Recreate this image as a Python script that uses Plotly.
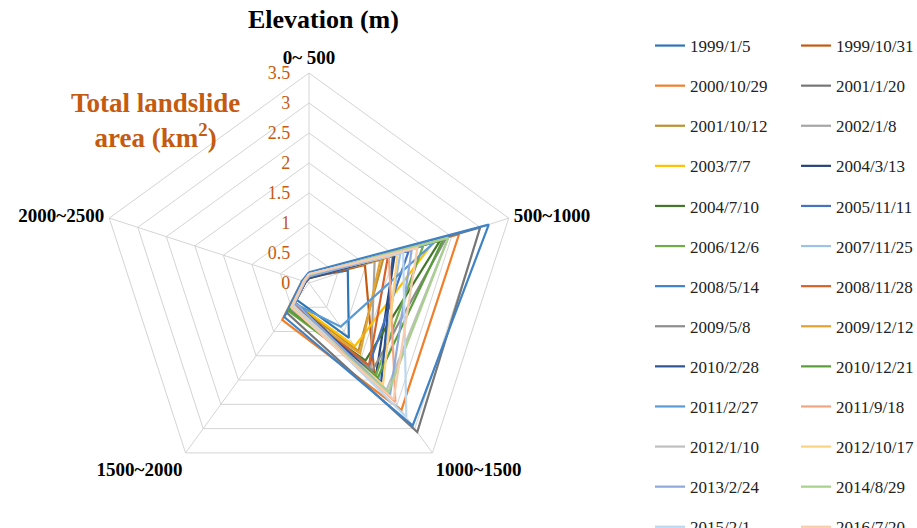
import plotly.graph_objects as go

# Elevation bands (angular categories)
elevation_bands = ["0~ 500", "500~1000", "1000~1500", "1500~2000", "2000~2500"]

# Landslide event dates (one trace each)
event_dates = [
    "1999/1/5", "1999/10/31", "2000/10/29", "2001/1/20", "2001/10/12",
    "2002/1/8", "2003/7/7", "2004/3/13", "2004/7/10", "2005/11/11",
    "2006/12/6", "2007/11/25", "2008/5/14", "2008/11/28", "2009/5/8",
    "2009/12/12", "2010/2/28", "2010/12/21", "2011/2/27", "2011/9/18",
    "2012/1/10", "2012/10/17", "2013/2/24", "2014/8/29", "2015/2/1",
    "2016/7/20",
]

# Total landslide area (km2) per elevation band, one list per event
area_1999_01_05 = [0.10, 0.68, 1.13, 0.35, 0.08]
area_1999_10_31 = [0.08, 0.98, 1.85, 0.40, 0.06]
area_2000_10_29 = [0.12, 2.63, 2.62, 0.76, 0.12]
area_2001_01_20 = [0.12, 3.00, 3.07, 0.62, 0.10]
area_2001_10_12 = [0.10, 1.30, 1.40, 0.42, 0.07]
area_2002_01_08 = [0.10, 1.15, 1.75, 0.52, 0.08]
area_2003_07_07 = [0.12, 2.17, 1.30, 0.40, 0.08]
area_2004_03_13 = [0.08, 1.50, 1.90, 0.45, 0.06]
area_2004_07_10 = [0.10, 2.30, 1.60, 0.50, 0.07]
area_2005_11_11 = [0.10, 1.75, 1.70, 0.48, 0.07]
area_2006_12_06 = [0.12, 2.00, 1.90, 0.58, 0.08]
area_2007_11_25 = [0.12, 1.60, 2.00, 0.46, 0.07]
area_2008_05_14 = [0.18, 3.15, 2.94, 0.70, 0.12]
area_2008_11_28 = [0.10, 1.38, 1.70, 0.44, 0.06]
area_2009_05_08 = [0.10, 2.40, 1.80, 0.55, 0.08]
area_2009_12_12 = [0.10, 1.25, 1.45, 0.50, 0.07]
area_2010_02_28 = [0.09, 1.47, 2.05, 0.40, 0.06]
area_2010_12_21 = [0.11, 2.35, 1.95, 0.56, 0.08]
area_2011_02_27 = [0.14, 2.20, 0.90, 0.42, 0.10]
area_2011_09_18 = [0.14, 1.40, 2.45, 0.50, 0.09]
area_2012_01_10 = [0.13, 2.44, 2.20, 0.48, 0.08]
area_2012_10_17 = [0.12, 1.55, 2.10, 0.47, 0.08]
area_2013_02_24 = [0.11, 1.80, 2.30, 0.40, 0.07]
area_2014_08_29 = [0.14, 2.44, 2.25, 0.50, 0.09]
area_2015_02_01 = [0.15, 1.65, 2.76, 0.45, 0.08]
area_2016_07_20 = [0.15, 1.90, 2.40, 0.50, 0.09]

area_series = [
    area_1999_01_05, area_1999_10_31, area_2000_10_29, area_2001_01_20,
    area_2001_10_12, area_2002_01_08, area_2003_07_07, area_2004_03_13,
    area_2004_07_10, area_2005_11_11, area_2006_12_06, area_2007_11_25,
    area_2008_05_14, area_2008_11_28, area_2009_05_08, area_2009_12_12,
    area_2010_02_28, area_2010_12_21, area_2011_02_27, area_2011_09_18,
    area_2012_01_10, area_2012_10_17, area_2013_02_24, area_2014_08_29,
    area_2015_02_01, area_2016_07_20,
]

line_colors = [
    "#2E75B6", "#C55A11", "#F07F2B", "#767676", "#BF9030",
    "#A5A5A5", "#FFC000", "#264478", "#43782B", "#4472C4",
    "#70AD47", "#9DC3E6", "#3F82C6", "#D9622B", "#8C8C8C",
    "#E3A232", "#2F5597", "#5A9E3A", "#5B9BD5", "#F4A582",
    "#BFBFBF", "#FFD27F", "#8EA9DB", "#A9D18E", "#BDD7EE",
    "#F8CBAD",
]

SERIF = "Liberation Serif, Times New Roman, serif"
GRID = "#D4D4D4"
ORANGE = "#C55A11"

fig = go.Figure()
for i, (date, vals, col) in enumerate(zip(event_dates, area_series, line_colors)):
    fig.add_trace(go.Scatterpolar(
        r=vals + vals[:1],
        theta=elevation_bands + elevation_bands[:1],
        mode="lines",
        name=date,
        line=dict(color=col, width=2.2),
        legend="legend" if i % 2 == 0 else "legend2",
        legendgroup=date,
    ))

legend_common = dict(
    orientation="v",
    font=dict(family=SERIF, size=17, color="#222222"),
    bgcolor="rgba(0,0,0,0)",
    tracegroupgap=15,
    yanchor="top",
    y=1.0 - 28 / 528,
    itemwidth=30,
    maxheight=700,
)

fig.update_layout(
    width=917,
    height=528,
    margin=dict(l=0, r=0, t=0, b=0, autoexpand=False),
    paper_bgcolor="white",
    plot_bgcolor="white",
    polar=dict(
        domain=dict(x=[99 / 917, 519 / 917], y=[35 / 528, 455 / 528]),
        gridshape="linear",
        bgcolor="white",
        radialaxis=dict(
            range=[0, 3.5],
            dtick=0.5,
            angle=90,
            tickangle=90,
            side="counterclockwise",
            showline=False,
            ticks="outside",
            ticklen=12,
            tickcolor="rgba(0,0,0,0)",
            gridcolor=GRID,
            gridwidth=1,
            tickfont=dict(family=SERIF, size=18, color=ORANGE),
        ),
        angularaxis=dict(
            direction="clockwise",
            rotation=90,
            showline=True,
            linecolor=GRID,
            linewidth=1,
            gridcolor=GRID,
            ticks="outside",
            ticklen=1,
            tickcolor="rgba(0,0,0,0)",
            tickmode="array",
            tickvals=elevation_bands,
            ticktext=["<b>%s</b>" % b for b in elevation_bands],
            tickfont=dict(family=SERIF, size=19, color="black"),
        ),
    ),
    legend=dict(legend_common, x=650 / 917, xanchor="left"),
    legend2=dict(legend_common, x=796 / 917, xanchor="left"),
    annotations=[
        dict(text="<b>Elevation (m)</b>", x=323 / 917, y=1 - 20 / 528,
             xref="paper", yref="paper", xanchor="center", yanchor="middle",
             showarrow=False,
             font=dict(family=SERIF, size=26, color="black")),
        dict(text="<b>Total landslide<br>area (km<sup>2</sup>)</b>",
             x=155 / 917, y=1 - 121 / 528, xref="paper", yref="paper",
             xanchor="center", yanchor="middle",
             showarrow=False, align="center",
             font=dict(family=SERIF, size=27, color=ORANGE)),
    ],
)

fig.write_html("out.html")
